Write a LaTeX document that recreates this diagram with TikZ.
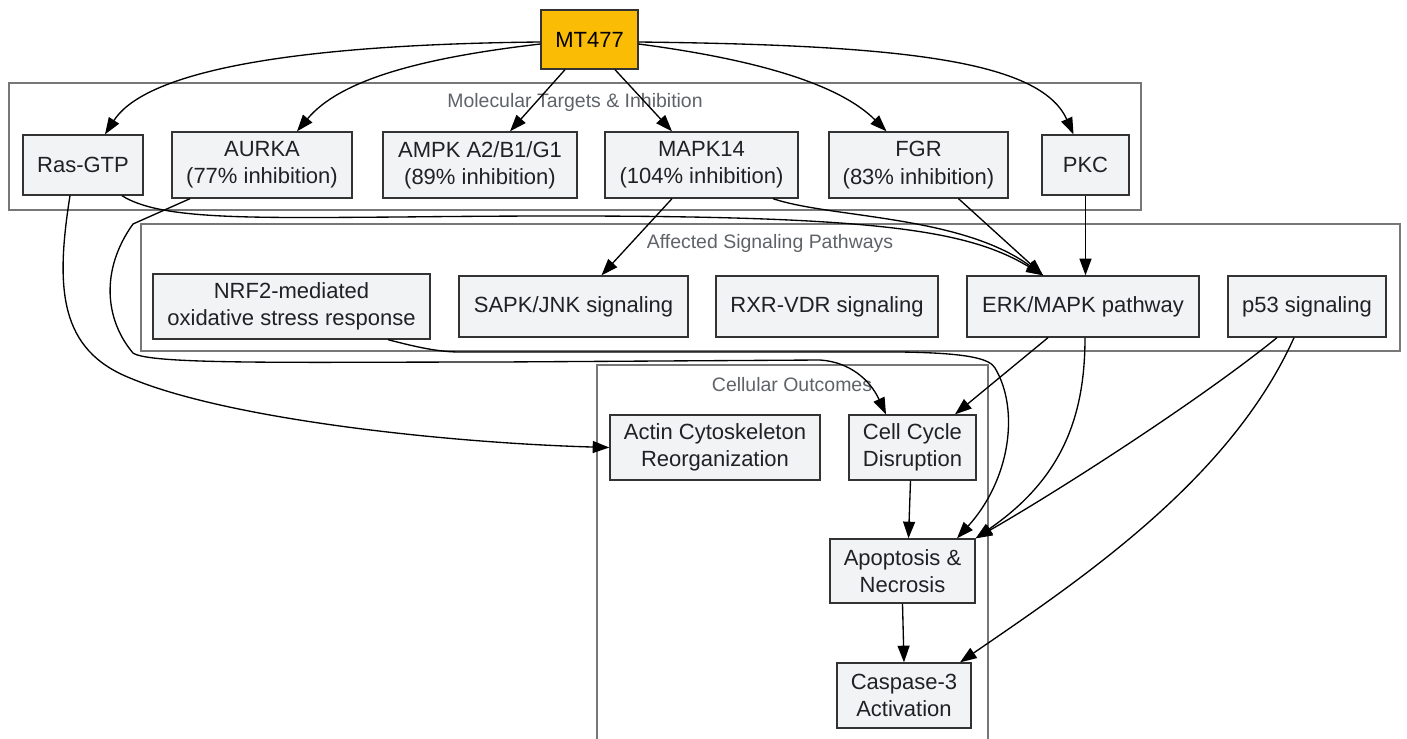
\documentclass[tikz,border=0pt]{standalone}
\usepackage{fontspec}
\setmainfont{Liberation Sans}
\usetikzlibrary{arrows.meta,calc}
\definecolor{nodefill}{HTML}{F1F3F4}
\definecolor{nodeborder}{HTML}{333333}
\definecolor{gold}{HTML}{FBBC05}
\definecolor{clusterline}{HTML}{777777}
\definecolor{clustertext}{HTML}{5F6368}
\definecolor{textcol}{HTML}{202124}
\begin{document}
\begin{tikzpicture}[x=0.75pt,y=-0.75pt,
  box/.style={draw=nodeborder, fill=nodefill, line width=1pt, inner sep=0pt, align=center,
    font=\fontsize{16.5}{20.5}\selectfont, text=textcol},
  cluster/.style={draw=clusterline, line width=0.9pt},
  clabel/.style={font=\fontsize{14.6}{17}\selectfont, text=clustertext, inner sep=0pt},
  edge/.style={draw=black, line width=1pt, -{Triangle[length=12.5pt,width=9pt]}}]
\useasboundingbox (0,0) rectangle (1407,739);
% clusters
\draw[cluster] (9,83) rectangle (1141,210);
\node[clabel] (l1) at (575,102) {Molecular Targets \& Inhibition};
\draw[cluster] (141,224) rectangle (1400,351);
\node[clabel] (l2) at (770,243) {Affected Signaling Pathways};
\draw[cluster] (597,760) -- (597,365) -- (988,365) -- (988,760);
\node[clabel] (l3) at (792,385) {Cellular Outcomes};
% nodes
\node[box, fill=gold, text=black, minimum width=72.75pt, minimum height=44.25pt] (mt) at (589.5,39.5) {MT477};
\node[box, minimum width=90pt, minimum height=45pt] (ras) at (83,165) {Ras-GTP};
\node[box, minimum width=135pt, minimum height=49.5pt] (aurka) at (262,165) {AURKA\\(77\% inhibition)};
\node[box, minimum width=145.5pt, minimum height=49.5pt] (ampk) at (480,165) {AMPK A2/B1/G1\\(89\% inhibition)};
\node[box, minimum width=144.75pt, minimum height=49.5pt] (mapk) at (701.5,165) {MAPK14\\(104\% inhibition)};
\node[box, minimum width=134.25pt, minimum height=49.5pt] (fgr) at (918.5,165) {FGR\\(83\% inhibition)};
\node[box, minimum width=65.25pt, minimum height=45pt] (pkc) at (1085.5,165) {PKC};
\node[box, minimum width=207.75pt, minimum height=48.75pt] (nrf) at (291.5,306.5) {NRF2-mediated\\oxidative stress response};
\node[box, minimum width=171.75pt, minimum height=45.75pt] (sapk) at (573.5,306.5) {SAPK/JNK signaling};
\node[box, minimum width=166.5pt, minimum height=45.75pt] (rxr) at (827,306.5) {RXR-VDR signaling};
\node[box, minimum width=174pt, minimum height=45.75pt] (erk) at (1083,306.5) {ERK/MAPK pathway};
\node[box, minimum width=118.5pt, minimum height=45.75pt] (p53) at (1307,306.5) {p53 signaling};
\node[box, minimum width=157.5pt, minimum height=48.75pt] (actin) at (715,447.5) {Actin Cytoskeleton\\Reorganization};
\node[box, minimum width=95.25pt, minimum height=48.75pt] (cell) at (912.5,447.5) {Cell Cycle\\Disruption};
\node[box, minimum width=108.75pt, minimum height=48pt] (apop) at (902.5,571) {Apoptosis \&\\Necrosis};
\node[box, minimum width=100.5pt, minimum height=48.75pt] (casp) at (904,695.5) {Caspase-3\\Activation};
% edges from MT477
\draw[edge] ($(mt.west)+(0,2.5)$) .. controls (250,45) and (140,80) .. ($(ras.north)+(22,0)$);
\draw[edge] ($(mt.west)+(0,4.5)$) .. controls (420,58) and (340,80) .. ($(aurka.north)+(35,0)$);
\draw[edge] ($(mt.south)+(-24.5,0)$) -- ($(ampk.north)+(30,0)$);
\draw[edge] ($(mt.south)+(25.5,0)$) -- ($(mapk.north)+(-29.5,0)$);
\draw[edge] ($(mt.east)+(0,4.5)$) .. controls (760,60) and (840,85) .. ($(fgr.north)+(-32,0)$);
\draw[edge] ($(mt.east)+(0,2.5)$) .. controls (900,45) and (1040,60) .. ($(pkc.north)+(-12,0)$);
% targets to pathways
\draw[edge] ($(mapk.south)+(-29.5,0)$) -- ($(sapk.north)+(28,0)$);
\draw[edge] ($(mapk.south)+(71.5,0)$) .. controls (830,218) and (960,215) .. ($(erk.north)+(-40,0)$);
\draw[edge] ($(ras.south)+(39,0)$) .. controls (160,220) and (250,218) .. (400,217)
   .. controls (850,212) and (960,225) .. ($(erk.north)+(-40,0)$);
\draw[edge] ($(fgr.south)+(40,0)$) -- ($(erk.north)+(-40,0)$);
\draw[edge] (pkc.south) -- (pkc.south |- erk.north);
% long connectors
\draw[edge] ($(ras.south)+(-13,0)$) .. controls (55,290) and (60,350) .. (130,378)
   .. controls (230,420) and (450,443) .. (actin.west);
\draw[edge] ($(aurka.south)+(-72,0)$) -- (133,224) .. controls (100,270) and (105,320) .. (133,353)
   .. controls (150,365) and (300,362) .. (500,362) -- (820,360)
   .. controls (850,362) and (870,380) .. ($(cell.north)+(-26.5,0)$);
\draw[edge] ($(nrf.south)+(96.5,0)$) .. controls (420,348) and (440,352) .. (460,352) -- (900,352)
   .. controls (975,353) and (990,360) .. (995,368)
   .. controls (1020,410) and (1010,480) .. ($(apop.north)+(54.5,0)$);
% pathways to outcomes
\draw[edge] ($(erk.south)+(-35,0)$) -- ($(cell.north)+(42.5,0)$);
\draw[edge] ($(erk.south)+(2,0)$) .. controls (1085,420) and (1060,480) .. (apop.north east);
\draw[edge] ($(p53.south)+(-30,0)$) .. controls (1200,400) and (1060,490) .. (apop.north east);
\draw[edge] ($(p53.south)+(-13,0)$) .. controls (1230,480) and (1080,580) .. ($(casp.north)+(56,0)$);
\draw[edge] ($(cell.south)+(-2,0)$) -- ($(apop.north)+(6,0)$);
\draw[edge] (apop.south) -- (casp.north);
\end{tikzpicture}
\end{document}
